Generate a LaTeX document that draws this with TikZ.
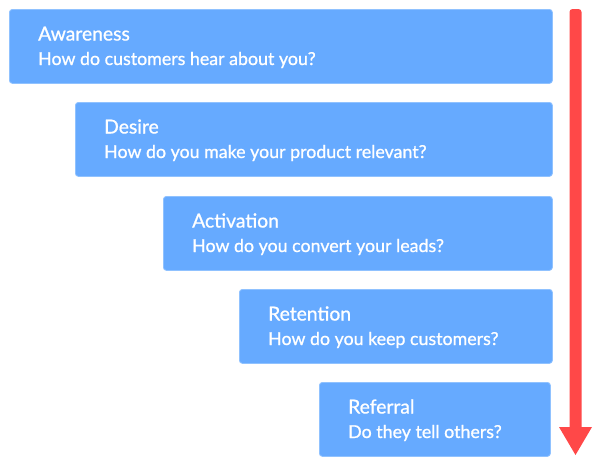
\documentclass[tikz,border=0pt]{standalone}
\usepackage{fontspec}
\setmainfont{Lato}[FakeBold=0.9,AutoFakeBold=0.9]
\definecolor{boxblue}{HTML}{66AAFF}
\definecolor{boxedge}{HTML}{90C2FF}
\definecolor{arrred}{HTML}{FF4848}
\begin{document}
\begin{tikzpicture}[x=1pt,y=-1pt,
  stage/.style={fill=boxblue, draw=boxedge, line width=0.8pt, rounded corners=3pt,
    anchor=north west, minimum height=74pt, inner sep=0pt},
  ttl/.style={anchor=base west, text=white, font=\bfseries\fontsize{19.3}{21}\selectfont, inner sep=0pt},
  qst/.style={anchor=base west, text=white, font=\bfseries\fontsize{17.8}{19}\selectfont, inner sep=0pt}]
\useasboundingbox (0,0) rectangle (600,467);
\fill[white] (0,0) rectangle (600,467);
\node[stage, minimum width=543pt] (b1) at (9,9) {};
\node[stage, minimum width=477pt] (b2) at (75,102) {};
\node[stage, minimum width=389pt] (b3) at (163,196) {};
\node[stage, minimum width=313pt] (b4) at (239,289) {};
\node[stage, minimum width=231pt] (b5) at (319,382) {};
\node[ttl] (t1) at (38,40.5) {Awareness};
\node[qst] (q1) at (38,65) {How do customers hear about you?};
\node[ttl] (t2) at (104,133.5) {Desire};
\node[qst] (q2) at (104,158) {How do you make your product relevant?};
\node[ttl] (t3) at (192,227.5) {Activation};
\node[qst] (q3) at (192,252) {How do you convert your leads?};
\node[ttl] (t4) at (268,320.5) {Retention};
\node[qst] (q4) at (268,345) {How do you keep customers?};
\node[ttl] (t5) at (348,413.5) {Referral};
\node[qst] (q5) at (348,438) {Do they tell others?};
\coordinate (atop) at (575.5,9);
\coordinate (atip) at (575.5,455);
\fill[arrred, rounded corners=3pt] (569.5,9) rectangle (581.5,432);
\fill[arrred] (559,427) -- (592,427) -- (atip) -- cycle;
\end{tikzpicture}
\end{document}
